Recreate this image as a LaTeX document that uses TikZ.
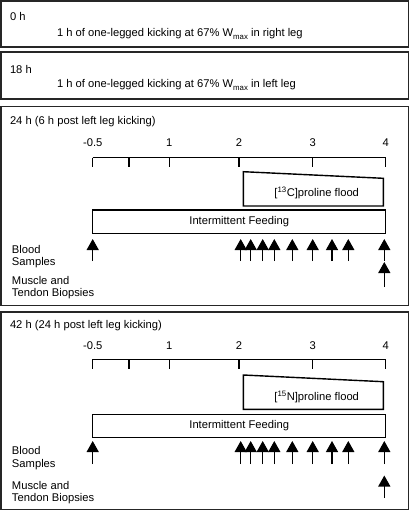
\documentclass[tikz,border=0pt]{standalone}
\usepackage{fontspec}
\setmainfont{Liberation Sans}
\usetikzlibrary{arrows.meta}
\newcommand\wmax{W\raisebox{-0.45ex}{\fontsize{7.8}{8}\selectfont max}}
\begin{document}
\begin{tikzpicture}[x=1pt,y=-1pt,
  every node/.style={inner sep=0pt,outer sep=0pt,font=\fontsize{11.2}{12.4}\selectfont},
  panel/.style={draw=black!85,line width=1.4pt},
  bar/.style={draw=black,line width=1.4pt},
  axisline/.style={draw=black,line width=1.4pt},
  lbl/.style={anchor=west,align=left},
  samp/.style={draw=black,line width=1.3pt,-{Triangle[width=12pt,length=11pt]}}]
\useasboundingbox (0,0) rectangle (413,513);
% top panels
\draw[panel] (1,1) rectangle (408.5,47);
\node[lbl] (t0) at (10,16) {0 h};
\node[lbl] (k0) at (57,34) {1 h of one-legged kicking at 67\% \wmax{} in right leg};
\draw[panel] (1,52) rectangle (408.5,99);
\node[lbl] (t18) at (10,69) {18 h};
\node[lbl] (k18) at (57,85) {1 h of one-legged kicking at 67\% \wmax{} in left leg};
% panel 3
\draw[panel] (1,106.5) rectangle (408.5,305.5);
\node[lbl] (t24) at (10,122) {24 h (6 h post left leg kicking)};
\foreach \x/\t in {92.7/-0.5,169.3/1,239/2,312.7/3,385.7/4}
  \node (a\t) at (\x,143) {\t};
\draw[axisline] (92.7,157.7) -- (385.7,157.7);
\foreach \x in {92.7,129,169.3,239,312.7,385.7}
  \draw[axisline] (\x,157.7) -- (\x,167);
\draw[bar] (243.3,171.7) -- (383.3,178.3) -- (383.3,206) -- (243.3,206) -- cycle;
\node (fl13) at (316.7,193.3) {[\textsuperscript{13}C]proline flood};
\node[bar,minimum width=293pt,minimum height=23.3pt,anchor=north west] (feed24) at (92.7,210) {};
\node (feed24t) at (feed24.center) {Intermittent Feeding};
\foreach \x [count=\i] in {92.7,240.7,250.7,262.7,274.3,292.3,312.7,332,348.3,384.3}{
  \coordinate (bs\i) at (\x,261);
  \coordinate (bt\i) at (\x,239);
  \draw[samp] (bs\i) -- (bt\i);}
\coordinate (ms24) at (384.3,287);
\coordinate (mt24) at (384.3,262);
\draw[samp] (ms24) -- (mt24);
\node[lbl,anchor=base west] (bl24) at (12,265.5) {Blood\\Samples};
\node[lbl,anchor=base west] (mu24) at (12,296.8) {Muscle and\\Tendon Biopsies};
% panel 4
\draw[panel] (1,312) rectangle (408.5,509.5);
\node[lbl] (t42) at (10,326) {42 h (24 h post left leg kicking)};
\foreach \x/\t in {92.7/-0.5,169.3/1,239/2,312.7/3,385.7/4}
  \node (b\t) at (\x,345.7) {\t};
\draw[axisline] (92.7,359.3) -- (385.7,359.3);
\foreach \x in {92.7,129,169.3,239,312.7,385.7}
  \draw[axisline] (\x,359.3) -- (\x,369.3);
\draw[bar] (243.3,375) -- (383.3,381.7) -- (383.3,409.3) -- (243.3,409.3) -- cycle;
\node (fl15) at (316.7,397) {[\textsuperscript{15}N]proline flood};
\node[bar,minimum width=293pt,minimum height=23.4pt,anchor=north west] (feed42) at (92.7,414.3) {};
\node (feed42t) at (feed42.center) {Intermittent Feeding};
\foreach \x [count=\i] in {92.7,240.7,250.7,262.7,274.3,292.3,312.7,332,348.3,384.3}{
  \coordinate (cs\i) at (\x,464);
  \coordinate (ct\i) at (\x,441);
  \draw[samp] (cs\i) -- (ct\i);}
\coordinate (ms42) at (384.3,498);
\coordinate (mt42) at (384.3,475.5);
\draw[samp] (ms42) -- (mt42);
\node[lbl,anchor=base west] (bl42) at (12,467.3) {Blood\\Samples};
\node[lbl,anchor=base west] (mu42) at (12,501.5) {Muscle and\\Tendon Biopsies};
\end{tikzpicture}
\end{document}
